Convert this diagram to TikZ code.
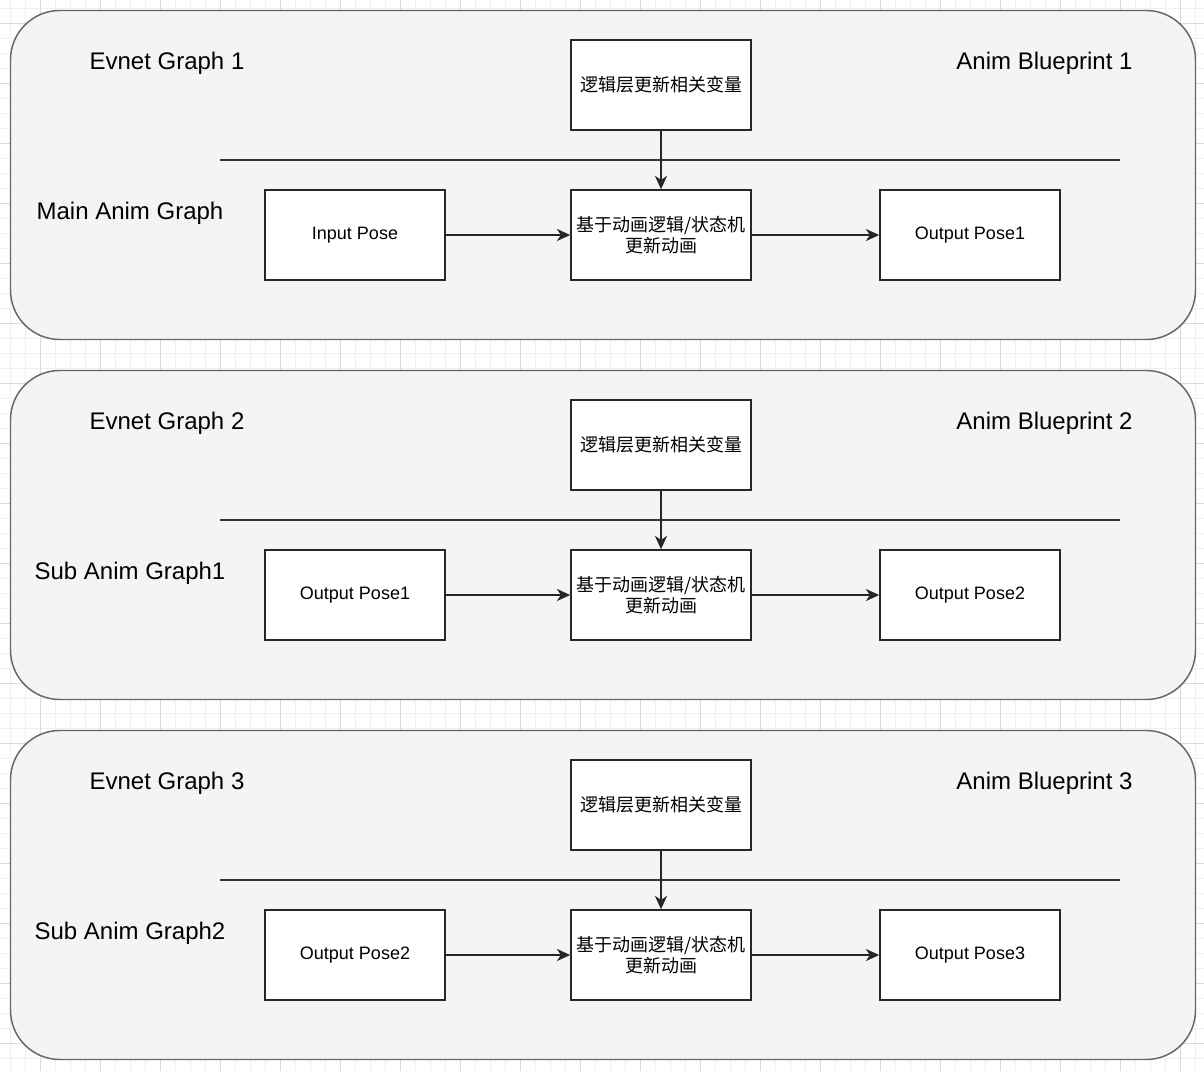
\documentclass[tikz,border=0pt]{standalone}
\usepackage{fontspec}
\setmainfont{Liberation Sans}
\newfontfamily\cjk{Noto Sans CJK SC}
\usetikzlibrary{arrows.meta}
\definecolor{gridminor}{HTML}{F0F0F0}
\definecolor{gridmajor}{HTML}{DADADA}
\definecolor{contfill}{HTML}{F4F4F4}
\definecolor{contline}{HTML}{666666}
\tikzset{
  container/.style={draw=contline, fill=contfill, line width=1.1pt, rounded corners=37pt},
  procbox/.style={draw=black!85, fill=white, line width=1.1pt, minimum width=135pt, minimum height=67.5pt, inner sep=0pt, align=center, font=\fontsize{13.5}{15.75}\selectfont},
  cjkbox/.style={procbox, font=\cjk\fontsize{13.5}{15.75}\selectfont},
  biglabel/.style={font=\fontsize{18}{21}\selectfont, inner sep=0pt},
  flow/.style={draw=black!85, line width=1.1pt, -{Stealth[length=10pt, width=9pt, inset=3pt]}},
  divider/.style={draw=black!80, line width=1.1pt}
}
\begin{document}
\begin{tikzpicture}[x=0.75pt, y=-0.75pt]
\useasboundingbox (0,0) rectangle (1204,1071);
\fill[white] (0,0) rectangle (1204,1071);
% grid
\foreach \k in {0,...,79} {
  \draw[gridminor, line width=0.75pt] ({10.5+15*\k},0) -- ({10.5+15*\k},1071);
}
\foreach \k in {0,...,71} {
  \draw[gridminor, line width=0.75pt] (0,{8.5+15*\k}) -- (1204,{8.5+15*\k});
}
\foreach \k in {0,...,19} {
  \draw[gridmajor, line width=0.75pt] ({40.5+60*\k},0) -- ({40.5+60*\k},1071);
}
\foreach \k in {0,...,17} {
  \draw[gridmajor, line width=0.75pt] (0,{23.5+60*\k}) -- (1204,{23.5+60*\k});
}
% containers
\foreach \i/\ev/\ab/\gr/\inp/\outp in {
  0/Evnet Graph 1/Anim Blueprint 1/Main Anim Graph/Input Pose/Output Pose1,
  1/Evnet Graph 2/Anim Blueprint 2/Sub Anim Graph1/Output Pose1/Output Pose2,
  2/Evnet Graph 3/Anim Blueprint 3/Sub Anim Graph2/Output Pose2/Output Pose3} {
  \pgfmathsetmacro{\dy}{360*\i}
  \begin{scope}[yshift={-0.75pt*\dy}]
    \draw[container] (10.5,10.5) rectangle (1195.5,339.5);
    \node[biglabel] (ev\i) at (167,63) {\ev};
    \node[biglabel] (ab\i) at (1044.5,63) {\ab};
    \node[biglabel] (gr\i) at (130,213) {\gr};
    \coordinate (dl\i) at (220,160);
    \coordinate (dr\i) at (1120,160);
    \draw[divider] (dl\i) -- (dr\i);
    \node[cjkbox] (top\i) at (661,85) {逻辑层更新相关变量};
    \node[cjkbox] (mid\i) at (661,235) {基于动画逻辑/状态机\\更新动画};
    \node[procbox] (in\i) at (355,235) {\inp};
    \node[procbox] (out\i) at (970,235) {\outp};
    \draw[flow] (top\i) -- (mid\i);
    \draw[flow] (in\i) -- (mid\i);
    \draw[flow] (mid\i) -- (out\i);
  \end{scope}
}
\end{tikzpicture}
\end{document}
